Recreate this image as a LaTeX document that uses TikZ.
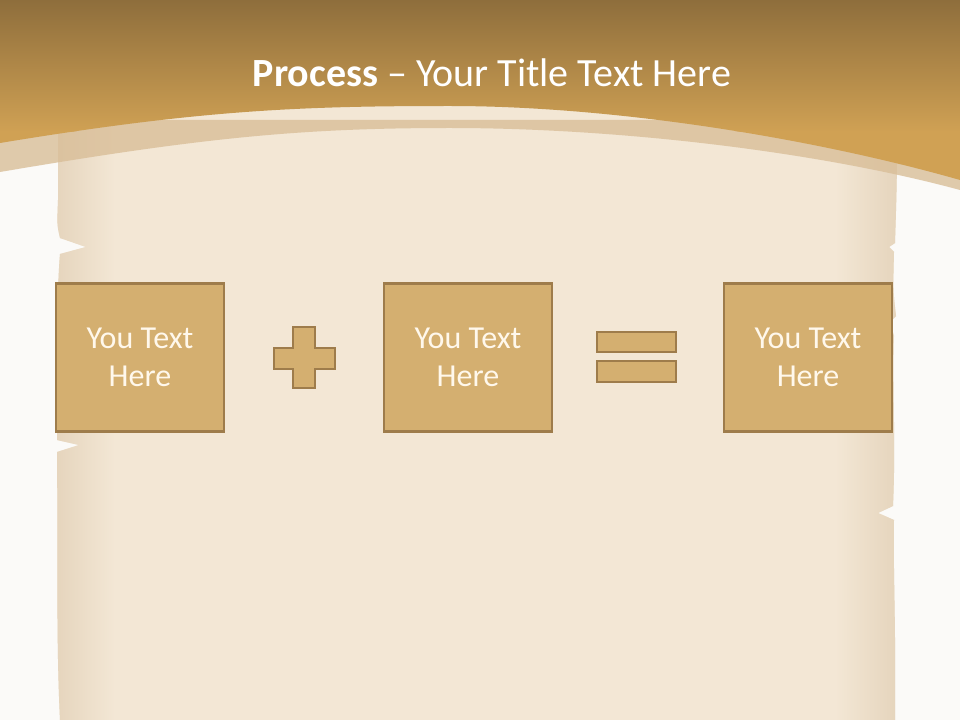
\documentclass[tikz,border=0pt]{standalone}
\usepackage{fontspec}
\setmainfont{Carlito}
\usetikzlibrary{calc}
\definecolor{bgwhite}{HTML}{FBFAF8}
\definecolor{parchC}{HTML}{F3E7D5}
\definecolor{parchE}{HTML}{E5D4BC}
\definecolor{goldtop}{HTML}{8E6E3C}
\definecolor{goldbot}{HTML}{D0A154}
\definecolor{bandc}{HTML}{D9BE98}
\definecolor{boxfill}{HTML}{D4AF70}
\definecolor{boxline}{HTML}{9E7C4B}
\definecolor{boxtext}{HTML}{FFF8EC}
\tikzset{
  tbox/.style={draw=boxline, line width=1.6pt, fill=boxfill, minimum width=126pt, minimum height=111pt,
    inner sep=0pt, text=boxtext, font=\fontsize{24}{29}\selectfont, align=center},
  sym/.style={draw=boxline, line width=1.6pt, fill=boxfill}
}
\def\parchpath{(58,100) -- (58,200) .. controls (57,225) .. (60,238) -- (86,247) -- (60,254)
  .. controls (56,300) and (58,380) .. (57,440) -- (79,445) -- (57,452)
  .. controls (58,550) and (56,640) .. (60,720)
  -- (895,720) .. controls (896,620) and (893,570) .. (894,520) -- (878,513) -- (893,506)
  .. controls (896,440) and (892,380) .. (894,336) -- (890,322) -- (896,316)
  .. controls (893,290) .. (894,252) -- (889,247) -- (895,243)
  .. controls (897,180) .. (897,100) -- cycle}
\def\headpath{(0,0) -- (0,143) .. controls (200,110) and (300,106) .. (450,106)
  .. controls (620,106) and (820,140) .. (960,180) -- (960,0) -- cycle}
\begin{document}
\begin{tikzpicture}[x=0.75pt,y=-0.75pt]
\useasboundingbox (0,0) rectangle (960,720);
\fill[bgwhite] (0,0) rectangle (960,720);
% parchment
\fill[parchC] \parchpath;
\begin{scope}
  \clip \parchpath;
  \shade[left color=parchE, right color=parchC] (54,100) rectangle (115,720);
  \shade[left color=parchC, right color=parchE] (835,100) rectangle (898,720);
\end{scope}
% translucent band
\fill[bandc, opacity=0.8]
  (0,120) -- (0,172) .. controls (200,138) and (300,128) .. (450,128)
  .. controls (620,128) and (820,152) .. (960,190) -- (960,120) -- cycle;
% header
\begin{scope}
  \clip \headpath;
  \shade[top color=goldtop, bottom color=goldbot] (0,0) rectangle (960,132);
  \fill[goldbot] (0,131) rectangle (960,181);
\end{scope}
\node[text=white, font=\fontsize{30}{36}\selectfont, anchor=base] (title) at (492,87)
  {\textbf{Process} – Your Title Text Here};
% boxes
\node[tbox] (b1) at (140,357.5) {You Text\\Here};
\node[tbox] (b2) at (468,357.5) {You Text\\Here};
\node[tbox] (b3) at (808,357.5) {You Text\\Here};
% plus
\draw[sym] (293,327) -- (315,327) -- (315,348) -- (335,348) -- (335,369) -- (315,369)
  -- (315,388) -- (293,388) -- (293,369) -- (274,369) -- (274,348) -- (293,348) -- cycle;
% equals
\draw[sym] (597,332) rectangle (676,352);
\draw[sym] (597,361) rectangle (676,382);
\end{tikzpicture}
\end{document}
